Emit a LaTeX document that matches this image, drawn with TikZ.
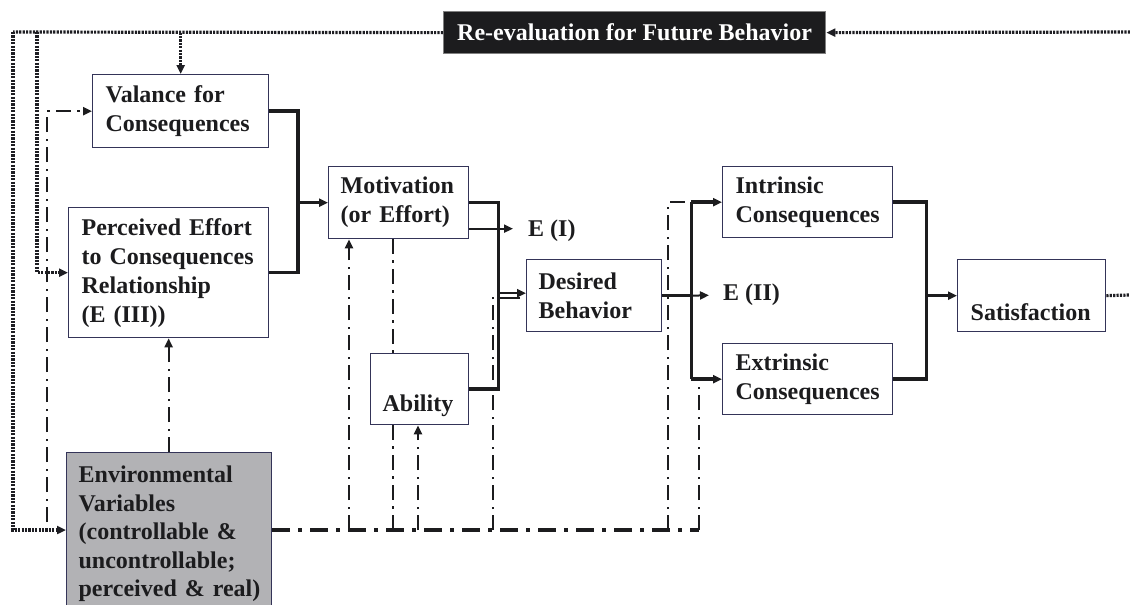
\documentclass[tikz,border=0pt]{standalone}
\usepackage{fontspec}
\setmainfont{Liberation Serif}
\usetikzlibrary{arrows.meta,calc}
\definecolor{ink}{RGB}{28,28,30}
\definecolor{frame}{RGB}{52,52,88}
\definecolor{envgray}{RGB}{178,178,181}
\definecolor{dotc}{RGB}{30,30,35}
\begin{document}
\begin{tikzpicture}[x=1pt,y=-1pt,
  box/.style={draw=frame, line width=1.3pt, fill=white, anchor=north west,
    inner xsep=13pt, inner ysep=0pt, align=left, text=ink,
    font=\fontsize{24}{29}\selectfont\bfseries},
  lbl/.style={inner sep=0pt, text=ink, font=\fontsize{24}{29}\selectfont\bfseries},
  thickline/.style={draw=ink, line width=3.6pt},
  thinline/.style={draw=ink, line width=2pt},
  arr/.style={-{Triangle[length=9pt,width=8pt]}},
  dotline/.style={draw=dotc, line width=3.2pt, dash pattern=on 2.2pt off 1.2pt},
  ddthin/.style={draw=ink, line width=2.2pt, dash pattern=on 15pt off 6pt on 2.5pt off 6.5pt},
  ddthick/.style={draw=ink, line width=4pt, dash pattern=on 18pt off 8pt on 4pt off 8pt}]

\useasboundingbox (0,0) rectangle (1130,605);
\clip (0,0) rectangle (1130,605);

% boxes
\node[box, fill=ink, draw=gray, text=white, align=center, inner xsep=0pt,
      minimum width=382pt, minimum height=42pt] (reev) at (443,11) {Re-evaluation for Future Behavior};
\node[box, text width=150pt, minimum height=73pt] (val) at (92,74) {Valance for\\Consequences};
\node[box, text width=174pt, minimum height=130pt] (eff) at (68,207)
  {Perceived Effort\\to Consequences\\Relationship\\(E (III))};
\node[box, fill=envgray, text width=181pt, inner xsep=12pt, minimum height=163pt,
      font=\fontsize{24}{28.5}\selectfont\bfseries] (env) at (66,452)
  {Environmental\\Variables\\(controllable~\&\\uncontrollable;\\perceived~\&~real)};
\node[box, text width=116pt, inner xsep=12pt, minimum height=72pt] (mot) at (328,166) {Motivation\\(or Effort)};
\node[box, text width=74pt, inner xsep=12pt, minimum height=71pt] (abl) at (370,353) {\strut\\Ability};
\node[box, text width=111pt, inner xsep=12pt, minimum height=72pt] (des) at (526,259) {Desired\\Behavior};
\node[box, text width=144pt, minimum height=71pt] (int) at (722,166) {Intrinsic\\Consequences};
\node[box, text width=144pt, minimum height=71pt] (ext) at (722,343) {Extrinsic\\Consequences};
\node[box, text width=122pt, minimum height=72pt] (sat) at (957,259) {\strut\\Satisfaction};

\node[lbl, anchor=west] (eI) at (528,231) {E (I)};
\node[lbl, anchor=west] (eII) at (723,295) {E (II)};

% junction points
\coordinate (j1) at ($(mot.west)+(-30,0)$);
\coordinate (j2) at ($(mot.east)+(29,0)$);
\coordinate (j3) at ($(des.east)+(29,0)$);
\coordinate (j4) at ($(int.east)+(33,0)$);

% solid flow
\draw[thickline] (val.east) -- (j1 |- val.east) -- (j1 |- eff.east) -- (eff.east);
\draw[thickline, arr] (j1) -- (mot.west);
\draw[thickline] (mot.east) -- (j2) -- (j2 |- abl.east) -- (abl.east);
\coordinate (dA) at ($(j2 |- des.west)+(0,-2.5)$);
\coordinate (dB) at ($(j2 |- des.west)+(0,2.5)$);
\draw[thickline, line width=2.6pt, arr] (dA) -- (dA -| des.west);
\draw[thickline, line width=2.6pt] (dB) -- ($(dB -| des.west)+(-6,0)$);
\coordinate (eIo) at ($(mot.east)+(0,26)$);
\draw[thinline, arr, shorten >=15pt] (eIo) -- (eIo -| eI.west);

\draw[thickline] (des.east) -- (j3);
\draw[thickline] (j3 |- int.west) -- (j3 |- ext.west);
\draw[thickline, arr] (j3 |- int.west) -- (int.west);
\draw[thickline, arr] (j3 |- ext.west) -- (ext.west);
\draw[thinline, arr, shorten >=14pt] (j3) -- (eII.west);

\draw[thickline] (int.east) -- (j4) -- (j4 |- ext.east) -- (ext.east);
\draw[thickline, arr] (j4 |- sat.west) -- (sat.west);

% feedback loops (dotted)
\coordinate (outT) at (1130,32);
\coordinate (outR) at (1130,295);
\coordinate (tl) at (13,32);
\coordinate (tl2) at (37,32);
\coordinate (envIn) at ($(env.north west)+(0,78)$);
\draw[dotline] (sat.east) -- (outR);
\draw[dotline, arr] (outT) -- (reev.east);
\draw[dotline] (reev.west) -- (tl);
\draw[dotline, arr] (tl) |- (envIn);
\draw[dotline, arr] (tl2) |- (eff.west);
\draw[dotline, arr] (val.north |- reev.west) -- (val.north);

% environmental influences (dash-dot)
\coordinate (hb0) at ($(env.north east)+(0,78)$);
\coordinate (eIn) at ($(ext.west)+(-23,0)$);
\coordinate (iIn) at ($(int.west)+(-54,0)$);
\coordinate (dIn) at ($(j2 |- des.west)+(-5,0)$);
\coordinate (mIn) at ($(mot.south west)+(21,0)$);
\coordinate (mAb) at ($(mot.south west)+(65,0)$);
\coordinate (aIn) at ($(abl.south west)+(48,0)$);
\coordinate (lft) at (47,522);

\draw[ddthick] (hb0) -- (hb0 -| eIn);
\draw[ddthin] (hb0 -| eIn) -- (eIn);
\draw[ddthin] (hb0 -| iIn) -- (iIn) -- (j3 |- int.west);
\draw[ddthin] (hb0 -| dIn) -- (dIn);
\draw[ddthin, arr] (hb0 -| mIn) -- (mIn);
\draw[ddthin] (mAb) -- (mAb |- abl.north);
\draw[ddthin] (mAb |- abl.south) -- (mAb |- hb0);
\draw[ddthin, arr] (aIn |- hb0) -- (aIn);
\draw[ddthin, arr] (eff.south |- env.north) -- (eff.south);
\draw[ddthin, arr] (lft) |- (val.west);
\end{tikzpicture}
\end{document}
